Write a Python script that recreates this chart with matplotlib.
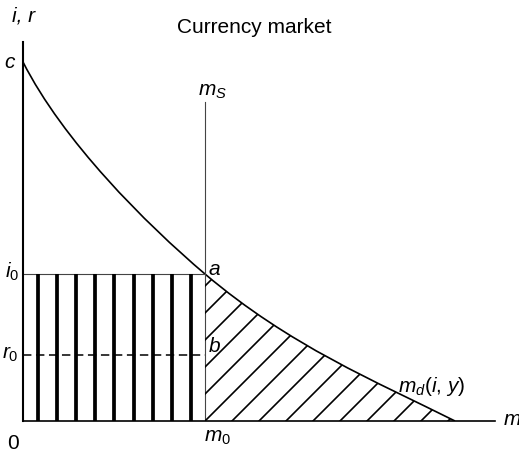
import numpy as np
import matplotlib
matplotlib.use("Agg")
import matplotlib.pyplot as plt
from matplotlib.path import Path
from matplotlib.patches import PathPatch

plt.rcParams['font.family'] = ['Liberation Sans', 'DejaVu Sans']
plt.rcParams['mathtext.fontset'] = 'custom'
plt.rcParams['mathtext.it'] = 'Liberation Sans:italic'
plt.rcParams['mathtext.rm'] = 'Liberation Sans'
plt.rcParams['mathtext.sf'] = 'Liberation Sans'

# money demand curve m_d(i, y): anchors c, a, end + bezier handles
curve_m = [0, 40, 122, 182, 267, 352, 432]
curve_i = [359, 280, 198, 147, 75, 40, 0]

m0 = 182      # money supply
i0 = 147      # nominal rate
r0 = 66       # real rate
ms_top = 319
x_max = 472
y_max = 379

title = "Currency market"


def main():
    fig = plt.figure(figsize=(5.19, 4.54), dpi=100)
    ax = fig.add_axes([23 / 519, 33 / 454, x_max / 519, y_max / 454])
    ax.set_xlim(0, x_max)
    ax.set_ylim(0, y_max)
    ax.set_xticks([])
    ax.set_yticks([])
    for side in ['top', 'right']:
        ax.spines[side].set_visible(False)
    ax.spines['left'].set_linewidth(1.5)
    ax.spines['bottom'].set_linewidth(1.2)
    ax.patch.set_alpha(0)

    # demand curve
    pts = list(zip(curve_m, curve_i))
    codes = [Path.MOVETO] + [Path.CURVE4] * 6
    ax.add_patch(PathPatch(Path(pts, codes), facecolor='none',
                           edgecolor='black', lw=1.2))

    # supply line
    ax.plot([m0, m0], [0, ms_top], color='#444444', lw=0.8)

    # i0 and r0 lines
    ax.plot([0, m0], [i0, i0], color='#444444', lw=0.8)
    ax.plot([0, m0], [r0, r0], color='black', lw=1.1, linestyle=(0, (5.5, 3)))

    # vertical thick stripes under i0
    for x in np.linspace(0.082 * m0, 0.923 * m0, 9):
        ax.plot([x, x], [0, i0], color='black', lw=2.7, solid_capstyle='butt')

    # diagonal hatch between m0 and the curve
    clip_pts = pts[3:] + [(m0, 0), (m0, 0)]
    clip_codes = [Path.MOVETO] + [Path.CURVE4] * 3 + [Path.LINETO, Path.CLOSEPOLY]
    clip = PathPatch(Path(clip_pts, clip_codes), facecolor='none', edgecolor='none')
    ax.add_patch(clip)
    step = 27
    for k in range(-6, 11):
        x0 = m0 + k * step
        line, = ax.plot([x0 - 400, x0 + 400], [-400, 400], color='black', lw=1.2)
        line.set_clip_path(clip)

    fs = 15
    ax.text(231, 388, title, ha='center', va='baseline', fontsize=15, clip_on=False)
    ax.text(1, 400, 'i, r', style='italic', ha='center', va='baseline', fontsize=fs, clip_on=False)
    ax.text(-13, 353, r'$c$', ha='center', va='baseline', fontsize=fs, clip_on=False)
    ax.text(-4, i0 - 4, r'$i_0$', ha='right', va='baseline', fontsize=fs, clip_on=False)
    ax.text(-4, r0 - 4, r'$r_0$', ha='right', va='baseline', fontsize=fs, clip_on=False)
    ax.text(m0 + 3, i0 - 1, r'$a$', ha='left', va='baseline', fontsize=fs, clip_on=False)
    ax.text(m0 + 3, r0 + 3, r'$b$', ha='left', va='baseline', fontsize=fs, clip_on=False)
    ax.text(m0 - 7, 325, r'$m_S$', ha='left', va='baseline', fontsize=fs, clip_on=False)
    ax.text(m0 - 1, -21, r'$m_0$', ha='left', va='baseline', fontsize=fs, clip_on=False)
    ax.text(-10, -28, '0', ha='center', va='baseline', fontsize=fs, clip_on=False)
    ax.text(375, 29, r'$m_d$($i$, $y$)', ha='left', va='baseline', fontsize=fs, clip_on=False)
    ax.text(480, -4, r'$m$', ha='left', va='baseline', fontsize=fs, clip_on=False)

    fig.savefig('out.png', dpi=100)


if __name__ == '__main__':
    main()
